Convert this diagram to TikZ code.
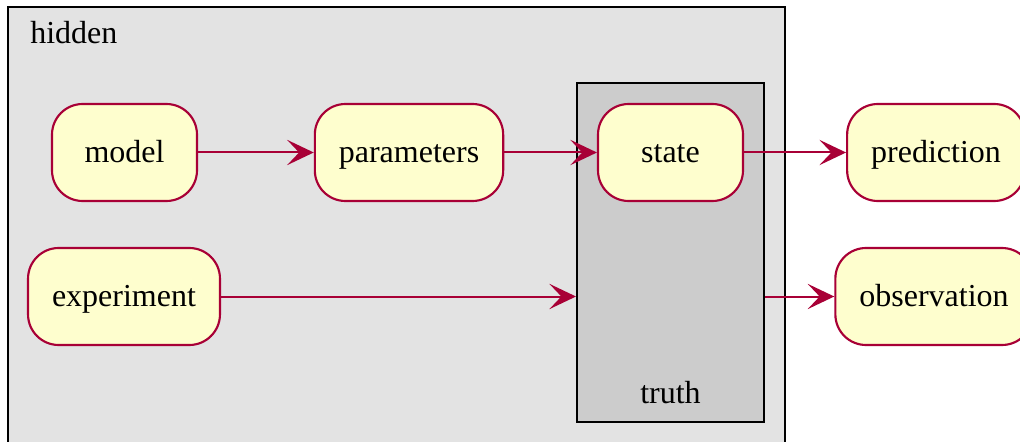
\documentclass[tikz,border=0pt]{standalone}
\usepackage{fontspec}
\setmainfont{Liberation Serif}
\usetikzlibrary{arrows.meta,positioning,calc}
\definecolor{actfill}{HTML}{FEFECE}
\definecolor{actline}{HTML}{A80036}
\definecolor{hiddengray}{HTML}{E3E3E3}
\definecolor{truthgray}{HTML}{CCCCCC}

\tikzset{
 activity/.style={draw=actline, fill=actfill, line width=1.6pt, rounded corners=23pt,
   minimum width=108.75pt, minimum height=72.75pt, inner xsep=18pt,
   text height=18pt, text depth=2.5pt,
   font=\fontsize{24pt}{28pt}\selectfont},
 flow/.style={draw=actline, line width=1.5pt,
   -{Stealth[length=20pt,width=19pt,inset=9pt]}},
 groupbox/.style={draw=black, line width=1.5pt},
 grouplabel/.style={font=\fontsize{24pt}{28pt}\selectfont, inner sep=0pt}
}

\begin{document}
\begin{tikzpicture}[x=0.75pt,y=-0.75pt]
 \useasboundingbox (0,0) rectangle (1020,442);
 % hidden area
 \draw[groupbox, fill=hiddengray] (8,7) rectangle (785,470);
 \node[grouplabel, anchor=base west] (hiddenlabel) at (30,44) {hidden};
 % truth area
 \node[groupbox, fill=truthgray, minimum width=140.25pt, minimum height=254.25pt,
   inner sep=0pt] (truth) at (670.5,252.5) {};
 \node[grouplabel, anchor=base] (truthlabel) at (670.5,403) {truth};

 \node[activity] (model) at (124.5,152.5) {model};
 \node[activity] (parameters) at (409,152.5) {parameters};
 \node[activity] (state) at (670.5,152.5) {state};
 \node[activity] (prediction) at (936,152.5) {prediction};
 \node[activity] (experiment) at (124,296.5) {experiment};
 \node[activity] (observation) at (934,296.5) {observation};

 \draw[flow] (model) -- (parameters);
 \draw[flow] (parameters) -- (state);
 \draw[flow] (state) -- (prediction);
 \draw[flow] (experiment) -- (truth.west |- experiment);
 \draw[flow] (truth.east |- observation) -- (observation);
\end{tikzpicture}
\end{document}
